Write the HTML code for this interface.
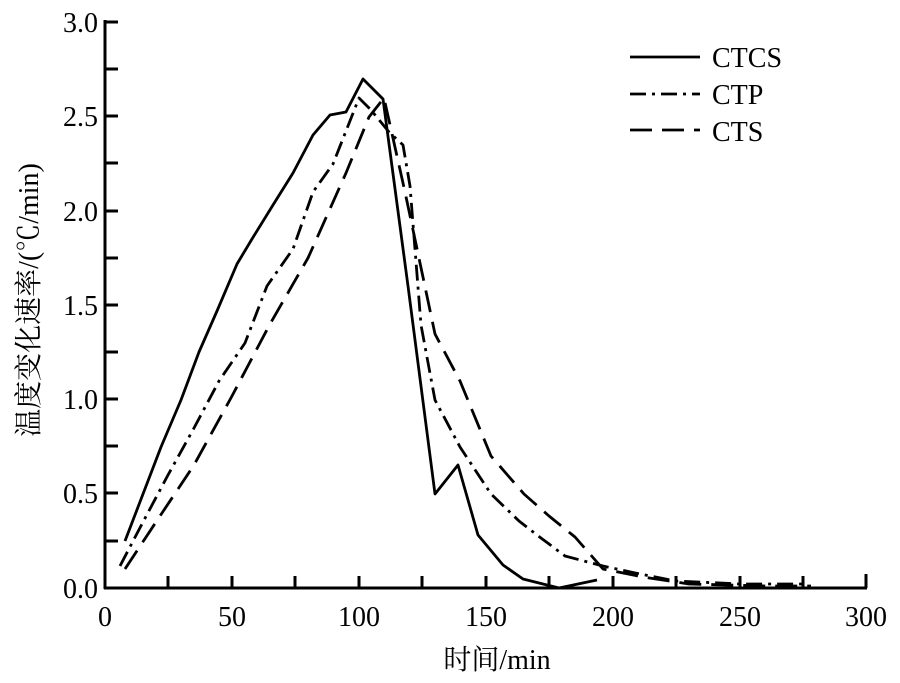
<!DOCTYPE html>
<html><head><meta charset="utf-8"><style>body{margin:0;background:#fff}svg{display:block}</style></head>
<body>
<svg width="900" height="683" xmlns="http://www.w3.org/2000/svg" font-family="Liberation Serif, 'Noto Serif CJK SC', serif">
<g stroke="#000" stroke-width="3" fill="none">
<line x1="105" y1="20" x2="105" y2="589"/>
<line x1="104" y1="588" x2="867" y2="588"/>
<path d="M105 22h13M105 69h13M105 116h13M105 163h13M105 211h13M105 258h13M105 305h13M105 352h13M105 399h13M105 446h13M105 493h13M105 541h13"/>
<path d="M168 588v-12M232 588v-12M295 588v-12M359 588v-12M422 588v-12M486 588v-12M549 588v-12M613 588v-12M676 588v-12M740 588v-12M803 588v-12M866 588v-14"/>
</g>
<g stroke="#000" stroke-width="2.8" fill="none" stroke-linejoin="round">
<polyline points="125,541 143,494 161,447 181,400 199,352 217,311 237,264 252,239 273,205 293,173 313,135 330,115 346,112 363,79 383,99 408,286 435,494 458,465 478,535 503,565 523,579 559,588 597,580"/>
<polyline stroke-dasharray="16,6,3,6" points="120,566 143,522 168,475 194,428 219,381 245,343 267,286 293,249 313,192 333,164 359,98 371,110 389,132 403,145 410,186 421,325 435,400 460,447 491,494 519,521 537,535 565,556 603,566 640,574 676,581 740,584 806,584"/>
<polyline stroke-dasharray="22,10" points="125,569 156,522 194,465 232,396 270,324 308,258 346,173 369,117 384,98 405,192 435,334 460,381 491,456 524,494 549,516 575,537 603,569 643,577 689,584 765,586 811,586"/>
</g>
<g font-size="28" text-anchor="end">
<text x="98" y="32">3.0</text><text x="98" y="126">2.5</text><text x="98" y="221">2.0</text><text x="98" y="315">1.5</text><text x="98" y="409">1.0</text><text x="98" y="503">0.5</text><text x="98" y="598">0.0</text>
</g>
<g font-size="28" text-anchor="middle">
<text x="105" y="626">0</text><text x="232" y="626">50</text><text x="359" y="626">100</text><text x="486" y="626">150</text><text x="613" y="626">200</text><text x="740" y="626">250</text><text x="866" y="626">300</text>
<text x="497" y="669">时间/min</text>
<text transform="translate(38,300) rotate(-90)">温度变化速率/(℃/min)</text>
</g>
<g stroke="#000" stroke-width="2.8">
<line x1="630" y1="57" x2="700" y2="57"/>
<line x1="630" y1="94" x2="700" y2="94" stroke-dasharray="16,6,3,6"/>
<line x1="630" y1="130" x2="700" y2="130" stroke-dasharray="22,10"/>
</g>
<g font-size="28"><text x="712" y="67">CTCS</text><text x="712" y="104">CTP</text><text x="712" y="141">CTS</text></g>
</svg>
</body></html>
